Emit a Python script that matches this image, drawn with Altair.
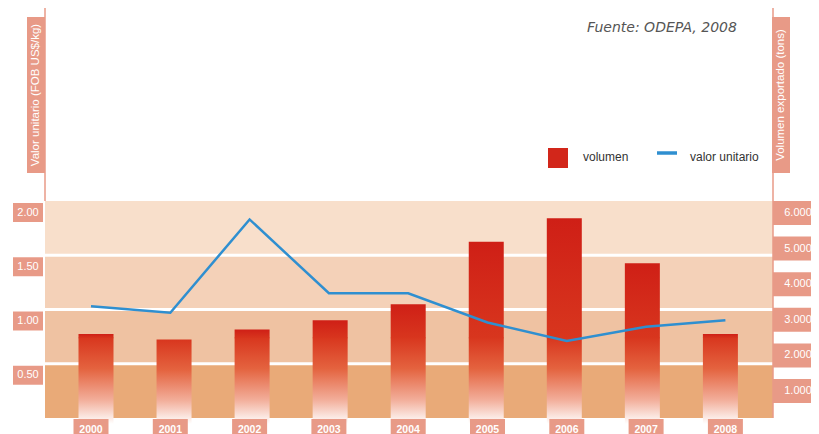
import altair as alt
import pandas as pd

# ---------------- data ----------------
anios = [2000, 2001, 2002, 2003, 2004, 2005, 2006, 2007, 2008]
volumen = [2600, 2450, 2730, 2990, 3440, 5190, 5850, 4590, 2600]          # tons
valor_unitario = [1.03, 0.97, 1.83, 1.15, 1.15, 0.88, 0.71, 0.84, 0.90]   # FOB US$/kg

ticks_izq = [0.5, 1.0, 1.5, 2.0]
etiquetas_izq = ["0.50", "1.00", "1.50", "2.00"]
ticks_der = [1000, 2000, 3000, 4000, 5000, 6000]
etiquetas_der = ["1.000", "2.000", "3.000", "4.000", "5.000", "6.000"]
etiquetas_x = ["2000", "2001", "2002", "2003", "2004", "2005", "2006", "2007", "2008"]
bandas_desde = [0.0, 0.5, 1.0, 1.5]
bandas_hasta = [0.5, 1.0, 1.5, 2.0]
separadores = [0.5, 1.0, 1.5]

titulo_izq = "Valor unitario (FOB US$/kg)"
titulo_der = "Volumen exportado (tons)"
fuente = "Fuente: ODEPA, 2008"
leyenda_vol = "volumen"
leyenda_val = "valor unitario"

# ---------------- styles ----------------
SALMON = "#e89a87"
BAND_COLORS = ["#e9aa78", "#efc2a2", "#f4d1b8", "#f8dfcb"]
LINE_BLUE = "#2f8fd0"
RED = "#d2261a"
FONT = "Liberation Sans"
FADE_TOP = 2500

XS = alt.Scale(domain=[2000, 2008], range=[83, 717.4], nice=False, zero=False)
YL = alt.Scale(domain=[0, 2], range=[410, 193], nice=False, zero=False)
YR = alt.Scale(domain=[0, 6000], range=[418.6, 205], nice=False, zero=False)

df = pd.DataFrame({"anio": anios, "volumen": volumen, "valor": valor_unitario,
                   "lab": etiquetas_x})
dfb = pd.DataFrame({"desde": bandas_desde, "hasta": bandas_hasta,
                    "banda": ["b0", "b1", "b2", "b3"]})
dfl = pd.DataFrame({"v": ticks_izq, "lab": etiquetas_izq})
dfr = pd.DataFrame({"v": ticks_der, "lab": etiquetas_der})
dfs = pd.DataFrame({"v": separadores})
one = lambda **kw: alt.Chart(pd.DataFrame({k: [v] for k, v in kw.items()}))

bands = alt.Chart(dfb).mark_rect().encode(
    x=alt.value(37), x2=alt.value(765),
    y=alt.Y("hasta:Q", scale=YL, axis=None), y2="desde:Q",
    color=alt.Color("banda:N", scale=alt.Scale(domain=["b0", "b1", "b2", "b3"], range=BAND_COLORS), legend=None),
)
seps = alt.Chart(dfs).mark_rule(color="white", strokeWidth=3).encode(
    y=alt.Y("v:Q", scale=YL, axis=None), x=alt.value(37), x2=alt.value(765)
)
vline_l = one(a=1).mark_rule(color=SALMON, strokeWidth=1.5).encode(
    x=alt.value(37), y=alt.value(0), y2=alt.value(193))
vline_r = one(a=1).mark_rule(color=SALMON, strokeWidth=1.5).encode(
    x=alt.value(765), y=alt.value(0), y2=alt.value(410))

grad_top = alt.LinearGradient(gradient="linear", x1=0, x2=0, y1=0, y2=1, stops=[
    alt.GradientStop(color="#cf1f16", offset=0),
    alt.GradientStop(color="#d8361e", offset=1)])
grad_fade = alt.LinearGradient(gradient="linear", x1=0, x2=0, y1=0, y2=1, stops=[
    alt.GradientStop(color="#d8361e", offset=0),
    alt.GradientStop(color="#e4633f", offset=0.35),
    alt.GradientStop(color="#f2ae9a", offset=0.7),
    alt.GradientStop(color="#ffffff", offset=0.97)])

barA = alt.Chart(df).transform_filter(
    f"datum.volumen > {FADE_TOP}"
).mark_bar(size=35, color=grad_top).encode(
    x=alt.X("anio:Q", scale=XS, axis=None),
    y=alt.Y("volumen:Q", scale=YR, axis=None),
    y2=alt.datum(FADE_TOP - 20),
)
barB = alt.Chart(df).transform_calculate(
    fade=f"min(datum.volumen, {FADE_TOP})"
).mark_bar(size=35, color=grad_fade).encode(
    x=alt.X("anio:Q", scale=XS, axis=None),
    y=alt.Y("fade:Q", scale=YR, axis=None),
    y2=alt.datum(0),
)
line = alt.Chart(df).mark_line(color=LINE_BLUE, strokeWidth=2.5).encode(
    x=alt.X("anio:Q", scale=XS, axis=None),
    y=alt.Y("valor:Q", scale=YL, axis=None),
)

# tick label boxes
lbox = alt.Chart(dfl).mark_point(shape="M-1,-0.633H1V0.633H-1Z", size=900, filled=True,
                                  opacity=1, strokeWidth=0, color=SALMON, yOffset=11.5).encode(
    x=alt.value(20), y=alt.Y("v:Q", scale=YL, axis=None))
ltxt = alt.Chart(dfl).mark_text(color="white", fontSize=11, font=FONT, yOffset=11.5).encode(
    x=alt.value(20), y=alt.Y("v:Q", scale=YL, axis=None), text="lab:N")
rbox = alt.Chart(dfr).mark_point(shape="M-1,-0.522H1V0.522H-1Z", size=2116, filled=True,
                                  opacity=1, strokeWidth=0, color=SALMON).encode(
    x=alt.value(788), y=alt.Y("v:Q", scale=YR, axis=None))
rtxt = alt.Chart(dfr).mark_text(color="white", fontSize=11, font=FONT).encode(
    x=alt.value(790), y=alt.Y("v:Q", scale=YR, axis=None), text="lab:N")
xbox = alt.Chart(df).mark_point(shape="M-1,-0.43H1V0.43H-1Z", size=1225, filled=True,
                                 opacity=1, strokeWidth=0, color=SALMON).encode(
    x=alt.X("anio:Q", scale=XS, axis=None), y=alt.value(418.5))
xtxt = alt.Chart(df).mark_text(color="white", fontSize=10.5, font=FONT, fontWeight="bold").encode(
    x=alt.X("anio:Q", scale=XS, axis=None), y=alt.value(422), text="lab:N")

# axis titles
tbox_l = one(t=titulo_izq).mark_rect(color=SALMON).encode(
    x=alt.value(19), x2=alt.value(37), y=alt.value(9), y2=alt.value(165))
ttxt_l = one(t=titulo_izq).mark_text(color="white", fontSize=11.5, font=FONT, angle=270).encode(
    x=alt.value(28), y=alt.value(87), text="t:N")
tbox_r = one(t=titulo_der).mark_rect(color=SALMON).encode(
    x=alt.value(764), x2=alt.value(782), y=alt.value(9), y2=alt.value(165))
ttxt_r = one(t=titulo_der).mark_text(color="white", fontSize=11.5, font=FONT, angle=270).encode(
    x=alt.value(773), y=alt.value(87), text="t:N")

# legend + source
leg_sq = one(t=leyenda_vol).mark_point(shape="square", size=400, filled=True, opacity=1,
                                        strokeWidth=0, color=RED).encode(
    x=alt.value(550), y=alt.value(150))
leg_t1 = one(t=leyenda_vol).mark_text(align="left", fontSize=12, font=FONT, color="#333").encode(
    x=alt.value(575), y=alt.value(149), text="t:N")
leg_ln = one(t=leyenda_val).mark_rule(color=LINE_BLUE, strokeWidth=3.5).encode(
    x=alt.value(649), x2=alt.value(669), y=alt.value(145))
leg_t2 = one(t=leyenda_val).mark_text(align="left", fontSize=12, font=FONT, color="#333").encode(
    x=alt.value(682), y=alt.value(149), text="t:N")
src = one(t=fuente).mark_text(align="left", fontSize=14, font="DejaVu Sans", fontStyle="italic",
                              color="#555").encode(x=alt.value(579), y=alt.value(20), text="t:N")

chart = alt.layer(
    bands, seps, vline_l, vline_r, barB, barA, line,
    lbox, ltxt, rbox, rtxt, xbox, xtxt,
    tbox_l, ttxt_l, tbox_r, ttxt_r,
    leg_sq, leg_t1, leg_ln, leg_t2, src,
).resolve_scale(
    x="independent", y="independent", color="independent"
).properties(
    width=803, height=426, padding=0, autosize=alt.AutoSizeParams(type="none")
).configure_view(stroke=None)

chart.save("out.html", embed_options={"renderer": "svg", "actions": False})
